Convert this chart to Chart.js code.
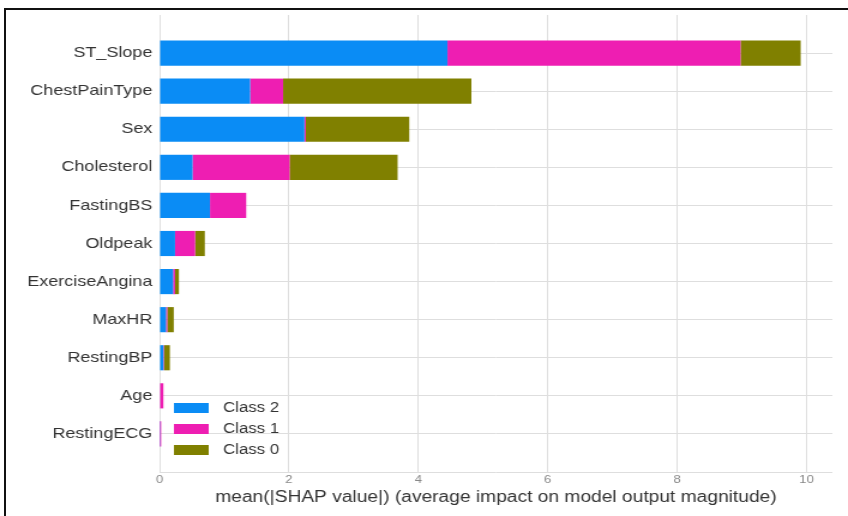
<!DOCTYPE html>
<html>
<head>
<meta charset="utf-8">
<script src="https://cdn.jsdelivr.net/npm/chart.js@4.4.1/dist/chart.umd.min.js"></script>
<style>
  html, body { margin: 0; padding: 0; background: #fff; overflow: hidden; }
  body { width: 848px; height: 516px; position: relative; }
  #frame { position: absolute; left: 4px; top: 8px; width: 900px; height: 600px;
           border-top: 2px solid #111; border-left: 2px solid #111; }
  #wrap { position: absolute; left: 0; top: 0; width: 707px; height: 516px;
          transform: scaleX(1.1994); transform-origin: 0 0; }
</style>
</head>
<body>
<div id="wrap"><canvas id="myChart" width="707" height="516"></canvas></div>
<div id="frame"></div>
<script>
// features, top to bottom
const features = ['ST_Slope', 'ChestPainType', 'Sex', 'Cholesterol', 'FastingBS', 'Oldpeak',
                  'ExerciseAngina', 'MaxHR', 'RestingBP', 'Age', 'RestingECG'];
const class2 = [4.45, 1.40, 2.24, 0.51, 0.78, 0.24, 0.21, 0.10, 0.06, 0.01, 0.005];
const class1 = [4.53, 0.51, 0.02, 1.50, 0.56, 0.31, 0.03, 0.02, 0.01, 0.05, 0.02];
const class0 = [0.93, 2.91, 1.60, 1.67, 0.00, 0.15, 0.06, 0.10, 0.09, 0.00, 0.00];
const classNames = ['Class 2', 'Class 1', 'Class 0'];
const xTicks = [0, 2, 4, 6, 8, 10];

// one empty slot above and below, like the matplotlib ylim
function pad(arr, v) { return [v].concat(arr, [v]); }

const colors = ['#0a8cf5', '#ee1eb2', '#808000'];

const legendInside = {
    id: 'legendInside',
    afterDraw(chart) {
        const ctx = chart.ctx;
        const ca = chart.chartArea;
        ctx.save();
        ctx.font = '14px "Liberation Sans", Arial, sans-serif';
        ctx.textBaseline = 'middle';
        chart.data.datasets.forEach((ds, i) => {
            const y = ca.bottom - 64 + i * 21;
            ctx.fillStyle = ds.backgroundColor;
            ctx.fillRect(ca.left + 12, y - 5, 29, 10);
            ctx.fillStyle = '#333';
            ctx.fillText(ds.label, ca.left + 53, y);
        });
        ctx.restore();
    }
};

new Chart('myChart', {
    type: 'bar',
    data: {
        labels: pad(features, ''),
        datasets: [
            { label: classNames[0], data: pad(class2, null), backgroundColor: colors[0] },
            { label: classNames[1], data: pad(class1, null), backgroundColor: colors[1] },
            { label: classNames[2], data: pad(class0, null), backgroundColor: colors[2] }
        ]
    },
    options: {
        indexAxis: 'y',
        responsive: false,
        animation: false,
        devicePixelRatio: 1,
        barPercentage: 1,
        categoryPercentage: 0.66,
        layout: { padding: { left: 0, right: 13, top: 13, bottom: 0 } },
        plugins: { legend: { display: false }, tooltip: { enabled: false } },
        scales: {
            x: {
                stacked: true,
                min: 0,
                max: 10.4,
                afterFit(scale) { scale.height = 44; },
                afterBuildTicks(scale) { scale.ticks = xTicks.map(v => ({ value: v })); },
                grid: { color: '#dedede', drawTicks: false },
                border: { display: false },
                ticks: {
                    padding: 1,
                    color: '#888',
                    font: { family: '"Liberation Sans", Arial, sans-serif', size: 11 }
                },
                title: {
                    display: true,
                    text: 'mean(|SHAP value|) (average impact on model output magnitude)',
                    color: '#333',
                    font: { family: '"Liberation Sans", Arial, sans-serif', size: 16 },
                    padding: { top: 0, bottom: 9 }
                }
            },
            y: {
                stacked: true,
                offset: false,
                afterFit(scale) { scale.width = 133; },
                grid: {
                    offset: false,
                    drawTicks: false,
                    color: ctx => ctx.index === 0 ? 'rgba(0,0,0,0)' : '#dedede'
                },
                border: { display: false },
                ticks: {
                    padding: 6,
                    autoSkip: false,
                    color: '#333',
                    font: { family: '"Liberation Sans", Arial, sans-serif', size: 15 }
                }
            }
        }
    },
    plugins: [legendInside]
});
</script>
</body>
</html>
